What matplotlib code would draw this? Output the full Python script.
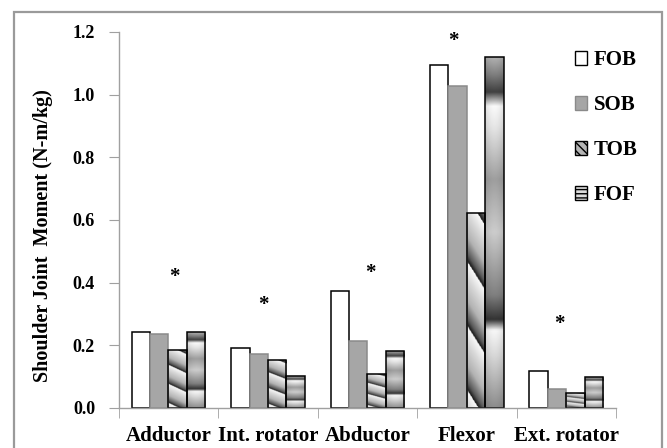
#!/usr/bin/env python3
"""
Shoulder joint moment per muscle group, four load conditions
"""

import numpy as np
import matplotlib
matplotlib.use('Agg')
import matplotlib.pyplot as plt
from matplotlib.patches import Patch, Rectangle

# ---- data ----
categories = ['Adductor', 'Int. rotator', 'Abductor', 'Flexor', 'Ext. rotator']
series_names = ['FOB', 'SOB', 'TOB', 'FOF']
fob = [0.243, 0.193, 0.372, 1.094, 0.119]
sob = [0.235, 0.173, 0.213, 1.029, 0.060]
tob = [0.185, 0.153, 0.108, 0.623, 0.047]
fof = [0.241, 0.101, 0.182, 1.121, 0.098]
star_heights = [0.419, 0.329, 0.432, 1.172, 0.268]
y_ticks = [0.0, 0.2, 0.4, 0.6, 0.8, 1.0, 1.2]

FONT = 'Liberation Serif'
AXIS_GRAY = '#a0a0a0'


def tob_texture(nx=40, ny=200):
    """diagonal banded gradient, like the office 'horizon' fill"""
    tx = np.linspace(0, 1, nx)
    ty = np.linspace(0, 1, ny)
    X, Y = np.meshgrid(tx, ty)
    period = 0.33
    u = Y + 0.15 * X
    p = ((u - 1.08) / period) % 1.0
    return np.interp(p, [0, 0.12, 0.4, 0.75, 1.0], [0.08, 0.35, 0.7, 0.85, 0.98])


def fof_texture(nx=40, ny=200):
    """horizontal metallic bands"""
    tx = np.linspace(0, 1, nx)
    ty = np.linspace(0, 1, ny)
    X, Y = np.meshgrid(tx, ty)
    stops = [0.0, 0.15, 0.22, 0.25, 0.32, 0.5, 0.65, 0.8, 0.86, 0.9, 0.95, 1.0]
    vals = [0.55, 0.85, 0.97, 0.2, 0.5, 0.8, 0.62, 0.9, 0.98, 0.25, 0.5, 0.7]
    col = np.interp(Y, stops, vals)
    return col * (0.9 + 0.1 * np.sin(np.pi * X))


def fill_with_texture(ax, bars, tex):
    for rect in bars:
        x0 = rect.get_x()
        w = rect.get_width()
        h = rect.get_height()
        im = ax.imshow(tex, extent=(x0, x0 + w, 0, h), origin='lower',
                       cmap='gray', vmin=0, vmax=1, aspect='auto',
                       interpolation='bilinear', zorder=1.5)
        im.set_clip_path(rect)


def plot_moments():
    fig = plt.figure(figsize=(6.67, 4.48), dpi=100)
    ax = fig.add_axes([0.178, 0.0893, 0.7455, 0.8393])

    x = np.arange(len(categories))
    bar_w = 0.185
    offsets = (np.arange(4) - 1.5) * bar_w
    lw = 1.1

    ax.bar(x + offsets[0], fob, bar_w, facecolor='white', edgecolor='black',
           linewidth=lw, zorder=2)
    ax.bar(x + offsets[1], sob, bar_w, facecolor='#a6a6a6', edgecolor='#8a8a8a',
           linewidth=lw, zorder=2)
    b_tob = ax.bar(x + offsets[2], tob, bar_w, facecolor='none', edgecolor='black',
                   linewidth=lw, zorder=2)
    b_fof = ax.bar(x + offsets[3], fof, bar_w, facecolor='none', edgecolor='black',
                   linewidth=lw, zorder=2)
    fill_with_texture(ax, b_tob, tob_texture())
    fill_with_texture(ax, b_fof, fof_texture())

    # significance stars
    star_dx = [0.06, -0.05, 0.03, -0.13, -0.07]
    for i, h in enumerate(star_heights):
        ax.text(x[i] + star_dx[i], h, '*', ha='center', va='center',
                fontsize=15, fontweight='bold', family=FONT)

    ax.set_xlim(-0.5, len(categories) - 0.5)
    ax.set_ylim(0, 1.2)
    ax.set_yticks(y_ticks)
    ax.set_yticklabels([f'{v:.1f}' for v in y_ticks], fontsize=13,
                       fontweight='bold', family=FONT)
    ax.set_xticks(x)
    ax.set_xticklabels(categories, fontsize=15, fontweight='bold', family=FONT)
    ax.set_xticks(np.arange(len(categories) + 1) - 0.5, minor=True)
    ax.tick_params(axis='x', which='major', length=0, pad=13)
    ax.tick_params(axis='x', which='minor', length=7, color=AXIS_GRAY, direction='out')
    ax.tick_params(axis='y', length=7, color=AXIS_GRAY, direction='out', pad=10)

    for side in ['top', 'right']:
        ax.spines[side].set_visible(False)
    for side in ['left', 'bottom']:
        ax.spines[side].set_color(AXIS_GRAY)
        ax.spines[side].set_linewidth(1.0)

    fig.text(0.065, 0.475, 'Shoulder Joint  Moment (N-m/kg)', rotation=90,
             ha='center', va='center', fontsize=14.5, fontweight='bold', family=FONT)

    handles = [
        Patch(facecolor='white', edgecolor='black', linewidth=1),
        Patch(facecolor='#a6a6a6', edgecolor='#8a8a8a', linewidth=1),
        Patch(facecolor='#b5b5b5', edgecolor='black', hatch='\\\\\\\\', linewidth=1),
        Patch(facecolor='#dcdcdc', edgecolor='black', hatch='----', linewidth=1),
    ]
    ax.legend(handles, series_names, loc='upper left', bbox_to_anchor=(0.9175, 0.951),
              frameon=False, borderpad=0, borderaxespad=0,
              handlelength=0.6, handleheight=0.6,
              handletextpad=0.3, labelspacing=1.2,
              prop={'family': FONT, 'weight': 'bold', 'size': 15})

    # outer frame (bottom edge is cut off in the original)
    fig.patches.append(Rectangle((14 / 667, -0.2), 648 / 667, 1.2 - 12 / 448,
                                 transform=fig.transFigure, fill=False,
                                 edgecolor='#9a9a9a', linewidth=1.6))

    fig.savefig('out.png', dpi=100)
    plt.close(fig)


if __name__ == '__main__':
    plot_moments()
